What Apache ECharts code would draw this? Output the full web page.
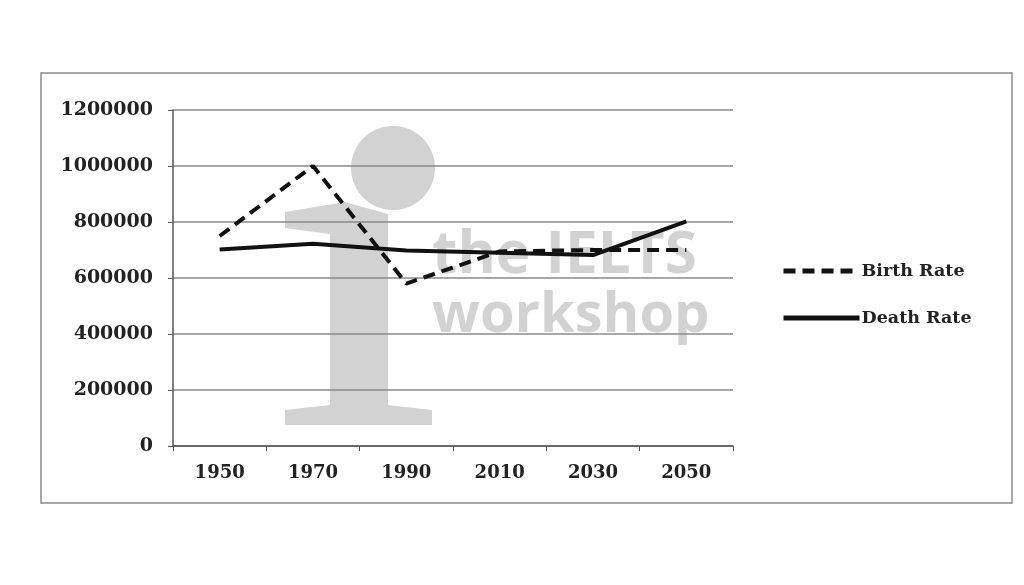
<!DOCTYPE html>
<html>
<head>
<meta charset="utf-8">
<script src="https://cdn.jsdelivr.net/npm/echarts@6/dist/echarts.min.js"></script>
<style>
html,body{margin:0;padding:0;background:#fff;}
#chart{width:1024px;height:585px;}
</style>
</head>
<body>
<div id="chart"></div>
<script>
var years = ['1950', '1970', '1990', '2010', '2030', '2050'];
var birthRate = [750000, 1000000, 580000, 695000, 700000, 700000];
var deathRate = [702000, 722000, 698000, 690000, 682000, 802000];
var yTicks = { min: 0, max: 1200000, interval: 200000 };

var chart = echarts.init(document.getElementById('chart'));
var serif = 'DejaVu Serif';
var wm = '#d2d2d2';

chart.setOption({
  backgroundColor: '#fff',
  animation: false,
  grid: { left: 173, right: 291, top: 110, bottom: 139 },
  graphic: [
    { type: 'rect', z: -10, silent: true, shape: { x: 41, y: 73, width: 971, height: 430 },
      style: { fill: 'none', stroke: '#8a8a8a', lineWidth: 1.5 } },
    { type: 'ellipse', z: -10, silent: true, shape: { cx: 393, cy: 168, rx: 42, ry: 42 }, style: { fill: wm } },
    { type: 'polygon', z: -10, silent: true,
      shape: { points: [[285,212],[345,202],[388,214],[388,405],[432,410],[432,425],[285,425],[285,410],[330,405],[330,234],[285,228]] },
      style: { fill: wm } },
    { type: 'text', z: -10, silent: true, left: 432, top: 227,
      style: { text: 'the IELTS', fill: wm, fontFamily: 'Open Sans', fontWeight: 'bold', fontSize: 58.5 } },
    { type: 'text', z: -10, silent: true, left: 432, top: 288,
      style: { text: 'workshop', fill: wm, fontFamily: 'Open Sans', fontWeight: 'bold', fontSize: 56 } }
  ],
  legend: {
    orient: 'vertical',
    left: 776,
    top: 257,
    itemWidth: 76,
    itemHeight: 14,
    itemGap: 29,
    itemStyle: { opacity: 0 },
    lineStyle: { width: 5 },
    textStyle: { fontFamily: serif, fontWeight: 'bold', fontSize: 17.5, color: '#222', padding: [0, 0, 0, -3] },
    data: ['Birth Rate', 'Death Rate']
  },
  xAxis: {
    type: 'category',
    data: years,
    boundaryGap: true,
    axisLine: { lineStyle: { color: '#555', width: 1.5 } },
    axisTick: { show: true, length: 5, lineStyle: { color: '#555' } },
    axisLabel: { margin: 18, fontFamily: serif, fontWeight: 'bold', fontSize: 18, color: '#222' }
  },
  yAxis: {
    type: 'value',
    min: yTicks.min,
    max: yTicks.max,
    interval: yTicks.interval,
    axisLine: { show: true, lineStyle: { color: '#555', width: 1.5 } },
    axisTick: { show: true, length: 5, lineStyle: { color: '#555' } },
    splitLine: { lineStyle: { color: '#8a8a8a', width: 1.5 } },
    axisLabel: { margin: 20, fontFamily: serif, fontWeight: 'bold', fontSize: 19, color: '#222',
      formatter: function (v) { return String(v); } }
  },
  series: [
    {
      name: 'Birth Rate', type: 'line', data: birthRate, symbol: 'none',
      lineStyle: { color: '#111', width: 4, type: [12, 7] },
      itemStyle: { color: '#111' }
    },
    {
      name: 'Death Rate', type: 'line', data: deathRate, symbol: 'none',
      lineStyle: { color: '#111', width: 4, type: 'solid' },
      itemStyle: { color: '#111' }
    }
  ]
});
</script>
</body>
</html>
